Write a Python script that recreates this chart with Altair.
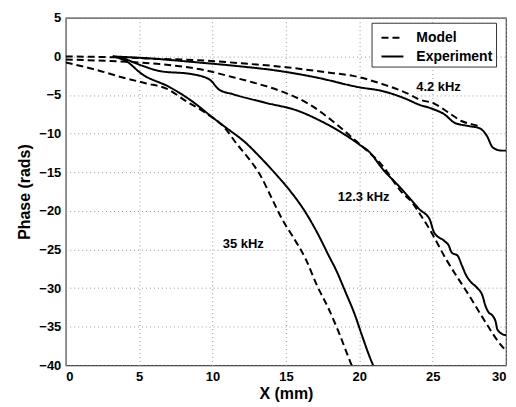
import altair as alt
import pandas as pd

# ---- data ----
model_42_x = [0, 3, 6, 9.1, 12, 15, 17.5, 20, 21.6, 23.4, 24, 25.2, 26.1, 27, 27.7, 28.1]
model_42_y = [0, -0.1, -0.3, -0.5, -0.9, -1.4, -2.0, -2.7, -3.6, -4.9, -5.5, -6.2, -7.3, -8.4, -8.8, -9.0]

exp_42_x = [3.2, 6, 9.1, 11.4, 14.6, 17, 20, 21.6, 23.3, 24, 25, 25.8, 26.5, 27.4, 28.2, 28.7, 29.1, 29.7, 30]
exp_42_y = [0, -0.3, -0.8, -1.2, -1.9, -2.7, -4.0, -4.5, -5.6, -6.2, -6.8, -7.5, -8.6, -9.0, -9.3, -10.3, -11.8, -12.2, -12.2]

model_123_x = [0, 3, 6.4, 9.5, 11.4, 13, 14.8, 16.6, 18.2, 19.8, 21.6, 22.9, 23.6, 24.1, 24.8, 25.9, 27.5, 28.6, 29.5, 30]
model_123_y = [-0.4, -0.6, -1.0, -1.8, -2.7, -3.5, -4.6, -6.2, -8.4, -11.0, -14.2, -17.6, -18.9, -20.3, -22.4, -26.2, -31.0, -34.4, -37.0, -38.1]

exp_123_x = [3.2, 4.1, 5.2, 6.4, 8.6, 9.8, 10.45, 11.4, 13.6, 15.9, 17.2, 18.2, 20, 20.7, 21.6, 22.7,
             23.5, 24.1, 24.8, 25.1, 25.8, 26.1, 26.3, 26.7, 27.0, 27.3, 27.6, 28.0, 28.4, 28.6,
             28.8, 29.1, 29.3, 29.4, 29.7, 30]
exp_123_y = [0, -0.4, -1.2, -1.9, -2.3, -3.0, -4.3, -4.9, -6.0, -7.1, -8.2, -9.2, -11.4, -12.4, -14.6, -16.8,
             -18.5, -19.8, -21.1, -22.8, -23.9, -24.5, -25.4, -25.8, -27.1, -28.4, -29.2, -29.9, -31.0, -32.3,
             -33.1, -33.6, -34.4, -35.3, -35.9, -36.1]

model_35_x = [0, 2, 4, 5.5, 6.9, 8.2, 9.6, 10.9, 11.6, 12.5, 13.2, 14.07, 14.75, 15.43, 16.34, 17.13, 17.92, 18.6, 19.4, 19.6]
model_35_y = [-0.8, -1.7, -2.8, -3.5, -4.2, -5.8, -7.4, -9.4, -11.2, -13.3, -15.2, -18.5, -21.1, -23.2, -26.2, -29.7, -32.7, -35.7, -39.6, -40.5]

exp_35_x = [3.2, 4.1, 5.2, 7.1, 8.6, 10, 10.9, 12.27, 13.17, 14.2, 15.2, 16.34, 17.24, 17.92, 18.38, 19.06, 19.73, 20.18, 20.86, 21.1]
exp_35_y = [0, -0.6, -2.3, -4.0, -5.8, -7.9, -9.2, -11.2, -12.9, -15.0, -17.2, -20.2, -23.2, -25.8, -27.5, -30.5, -33.6, -36.1, -39.6, -40.6]

label_text = ["4.2 kHz", "12.3 kHz", "35 kHz"]
label_x = [25.4, 20.3, 12.1]
label_y = [-4.0, -18.2, -24.3]

x_ticks = [0, 5, 10, 15, 20, 25, 30]
y_ticks = [-40, -35, -30, -25, -20, -15, -10, -5, 0, 5]

# ---- build table ----
rows = []
def add(xs, ys, freq, kind):
    for i, (a, b) in enumerate(zip(xs, ys)):
        rows.append({"x": a, "y": b, "freq": freq, "type": kind, "order": i})

add(model_42_x, model_42_y, "4.2", "Model")
add(exp_42_x, exp_42_y, "4.2", "Experiment")
add(model_123_x, model_123_y, "12.3", "Model")
add(exp_123_x, exp_123_y, "12.3", "Experiment")
add(model_35_x, model_35_y, "35", "Model")
add(exp_35_x, exp_35_y, "35", "Experiment")
df = pd.DataFrame(rows)

labels = pd.DataFrame({"text": label_text, "x": label_x, "y": label_y})

FONT = "Liberation Sans"

xscale = alt.Scale(domain=[0, 30], nice=False, zero=False)
yscale = alt.Scale(domain=[-40, 5], nice=False, zero=False)
xaxis = alt.Axis(title="X (mm)", values=x_ticks, tickCount=7)
yaxis = alt.Axis(title="Phase (rads)", values=y_ticks, tickCount=10, labelOverlap=False)

lines = alt.Chart(df).mark_line(color="black", strokeWidth=2, clip=True, interpolate="monotone").encode(
    x=alt.X("x:Q", scale=xscale, axis=xaxis),
    y=alt.Y("y:Q", scale=yscale, axis=yaxis),
    strokeDash=alt.StrokeDash(
        "type:N",
        scale=alt.Scale(domain=["Model", "Experiment"], range=[[7, 4], [1, 0]]),
        legend=alt.Legend(title=None, orient="none", legendX=307, legendY=5,
                          strokeColor="#333", fillColor="white", padding=3,
                          symbolType="stroke", symbolSize=484, symbolStrokeWidth=2,
                          symbolStrokeColor="black", symbolOffset=6,
                          labelFont=FONT, labelFontSize=14, labelFontWeight="bold",
                          labelColor="black", rowPadding=-4, labelOffset=12),
    ),
    detail="freq:N",
    order="order:Q",
)

text = alt.Chart(labels).mark_text(font=FONT, fontSize=13, fontWeight="bold", color="black").encode(
    x=alt.X("x:Q", scale=xscale, axis=xaxis),
    y=alt.Y("y:Q", scale=yscale, axis=yaxis),
    text="text:N",
)

chart = alt.layer(lines, text).properties(
    width=442, height=349,
    autosize=alt.AutoSizeParams(type="none"),
    padding={"left": 58, "top": 9, "right": 2, "bottom": 40},
).configure_view(
    stroke="#444", strokeWidth=1.2
).configure_axis(
    grid=True, gridColor="#999", gridDash=[1, 3], gridWidth=1,
    ticks=False, domain=False,
    labelFont=FONT, labelFontSize=13, labelFontWeight="bold", labelColor="black",
    titleFont=FONT, titleFontSize=16, titleFontWeight="bold", titleColor="black",
    labelPadding=5,
).configure_axisY(titlePadding=6).configure_axisX(titlePadding=2)

chart.save("out.html", embed_options={"renderer": "svg", "actions": False})
